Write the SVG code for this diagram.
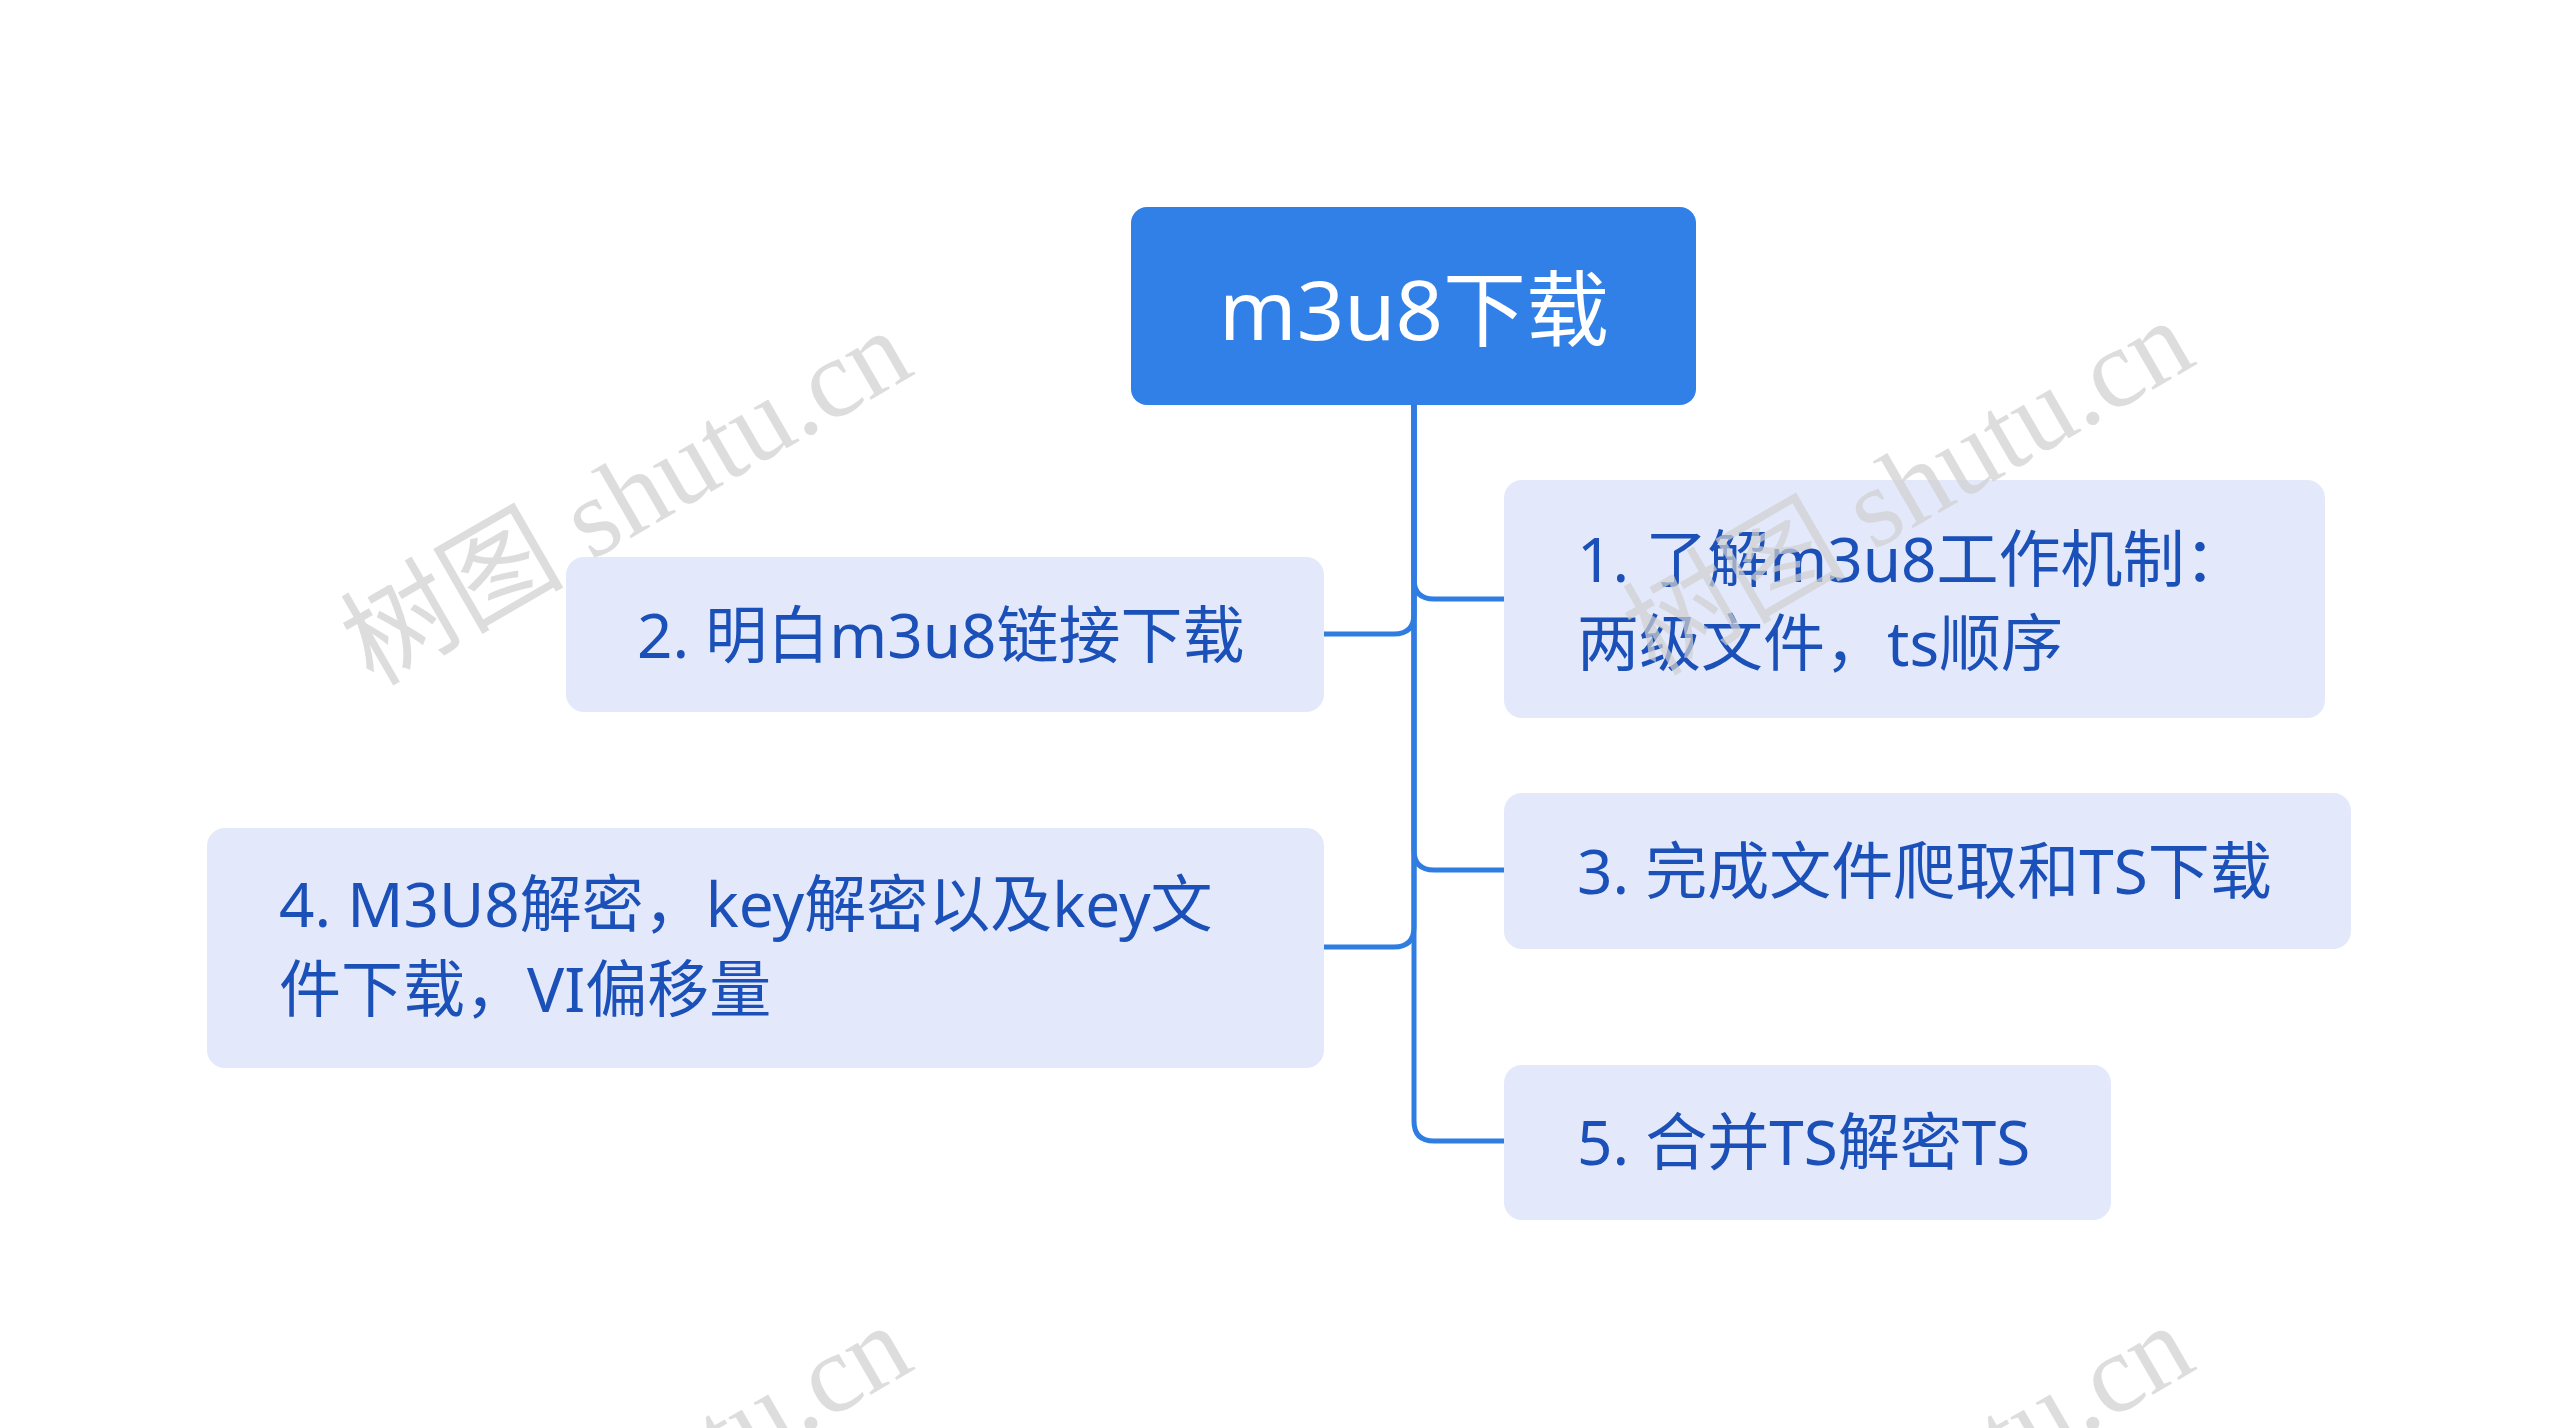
<svg xmlns="http://www.w3.org/2000/svg" width="2560" height="1428" viewBox="0 0 2560 1428">
<style>
.n{fill:#e3e9fb}
.t{font-family:"Noto Sans","Noto Sans CJK SC",sans-serif;font-size:62px;fill:#1b50b8}
.c{fill:none;stroke:#2f7de1;stroke-width:5}
.w{font-family:"Liberation Serif","Noto Sans CJK SC",serif;font-size:112px;fill:#d0d0d0;opacity:0.7}
</style>
<rect width="2560" height="1428" fill="#fff"/>
<g id="connectors">
<path class="c" d="M1414 405 V579 Q1414 599 1434 599 H1504"/>
<path class="c" d="M1414 405 V614 Q1414 634 1394 634 H1324"/>
<path class="c" d="M1414 405 V850 Q1414 870 1434 870 H1504"/>
<path class="c" d="M1414 405 V927 Q1414 947 1394 947 H1324"/>
<path class="c" d="M1414 405 V1121 Q1414 1141 1434 1141 H1504"/>
</g>
<g id="root"><rect x="1131" y="207" width="565" height="198" rx="16" fill="#3080e8"/>
<text x="1414" y="307" text-anchor="middle" dominant-baseline="central" font-family="Noto Sans,Noto Sans CJK SC,sans-serif" font-size="83" fill="#fff">m3u8下载</text></g>
<g id="n1"><rect class="n" x="1504" y="480" width="821" height="238" rx="18"/>
<text class="t" x="1577" y="558" dominant-baseline="central">1. 了解m3u8工作机制：</text>
<text class="t" x="1577" y="642" dominant-baseline="central">两级文件，ts顺序</text></g>
<g id="n2"><rect class="n" x="566" y="557" width="758" height="155" rx="18"/>
<text class="t" x="637" y="634" dominant-baseline="central">2. 明白m3u8链接下载</text></g>
<g id="n3"><rect class="n" x="1504" y="793" width="847" height="156" rx="18"/>
<text class="t" x="1577" y="870" dominant-baseline="central">3. 完成文件爬取和TS下载</text></g>
<g id="n4"><rect class="n" x="207" y="828" width="1117" height="240" rx="18"/>
<text class="t" x="279" y="903" dominant-baseline="central">4. M3U8解密，key解密以及key文</text>
<text class="t" x="279" y="988" dominant-baseline="central">件下载，VI偏移量</text></g>
<g id="n5"><rect class="n" x="1504" y="1065" width="607" height="155" rx="18"/>
<text class="t" x="1577" y="1141" dominant-baseline="central">5. 合并TS解密TS</text></g>
<g id="watermarks">
<text class="w" x="645" y="530" text-anchor="middle" transform="rotate(-30 645 530)">树图 shutu.cn</text>
<text class="w" x="1927" y="520" text-anchor="middle" transform="rotate(-30 1927 520)">树图 shutu.cn</text>
<text class="w" x="645" y="1525" text-anchor="middle" transform="rotate(-30 645 1525)">树图 shutu.cn</text>
<text class="w" x="1927" y="1525" text-anchor="middle" transform="rotate(-30 1927 1525)">树图 shutu.cn</text>
</g>
</svg>
